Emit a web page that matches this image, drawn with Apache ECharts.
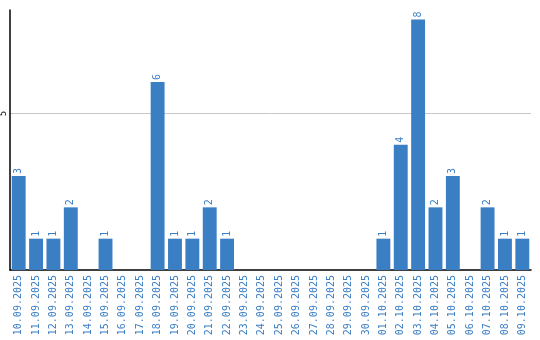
<!DOCTYPE html>
<html><head><meta charset="utf-8">
<script src="https://cdn.jsdelivr.net/npm/echarts@6/dist/echarts.min.js"></script>
<style>html,body{margin:0;padding:0;background:#fff}#c{width:540px;height:340px}</style>
</head><body><div id="c"></div>
<script>
const categories = ["10.09.2025","11.09.2025","12.09.2025","13.09.2025","14.09.2025","15.09.2025","16.09.2025","17.09.2025","18.09.2025","19.09.2025","20.09.2025","21.09.2025","22.09.2025","23.09.2025","24.09.2025","25.09.2025","26.09.2025","27.09.2025","28.09.2025","29.09.2025","30.09.2025","01.10.2025","02.10.2025","03.10.2025","04.10.2025","05.10.2025","06.10.2025","07.10.2025","08.10.2025","09.10.2025"];
const values = [3,1,1,2,0,1,0,0,6,1,1,2,1,0,0,0,0,0,0,0,0,1,4,8,2,3,0,2,1,1];
const yMax = 8.3;
const yInterval = 5;
const blue = '#3a7ec4';
const chart = echarts.init(document.getElementById('c'));
chart.setOption({
  animation:false,
  grid:{left:10,right:9,top:10,bottom:70,containLabel:false},
  xAxis:{type:'category',data:categories,
    axisLine:{lineStyle:{color:'#000',width:1.5}},axisTick:{show:false},
    axisLabel:{rotate:90,interval:0,color:blue,fontFamily:'DejaVu Sans Mono',fontSize:10,margin:5}},
  yAxis:{type:'value',min:0,max:yMax,interval:yInterval,
    axisLine:{show:true,lineStyle:{color:'#000',width:1.5}},axisTick:{show:false},
    splitLine:{showMaxLine:false,showMinLine:false,lineStyle:{color:'#c8c8c8'}},
    axisLabel:{rotate:90,showMinLabel:false,showMaxLabel:false,color:'#000',fontFamily:'DejaVu Sans',fontSize:8,margin:2}},
  series:[{type:'bar',data:values.map(v=>v===0?null:v),barCategoryGap:'20%',
    itemStyle:{color:blue},
    label:{show:true,position:'top',rotate:90,align:'left',verticalAlign:'middle',distance:2,color:blue,fontFamily:'DejaVu Sans Mono',fontSize:10}}]
});
</script></body></html>
